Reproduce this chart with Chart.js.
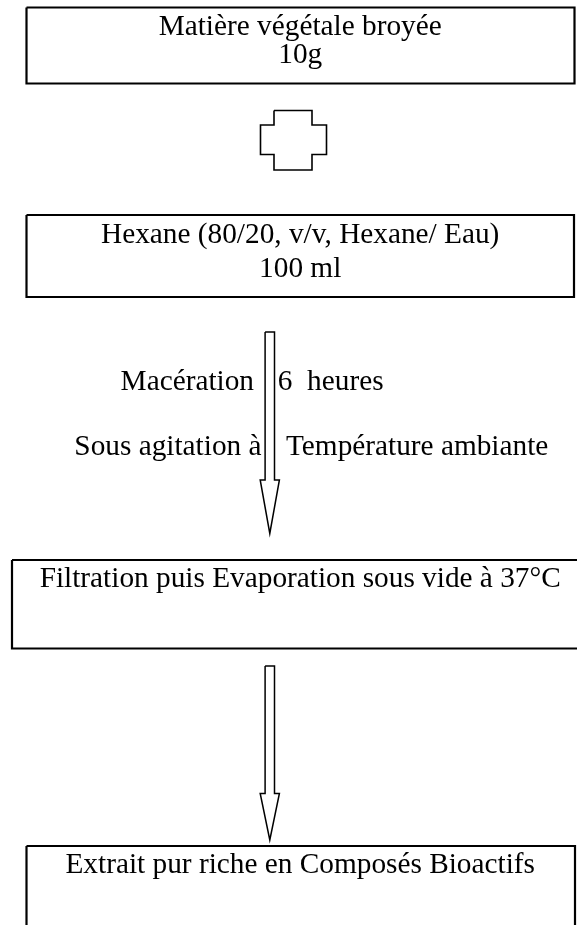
<!DOCTYPE html>
<html>
<head>
<meta charset="utf-8">
<script src="https://cdn.jsdelivr.net/npm/chart.js@4/dist/chart.umd.min.js"></script>
<style>
  html, body { margin: 0; padding: 0; background: #fff; }
  #schema { display: block; }
</style>
</head>
<body>
<canvas id="schema" width="577" height="925"></canvas>
<script>
// etapes du protocole (unites du schema)
const stepLines = [
    ["Matière végétale broyée", "10g"],
    ["Hexane (80/20, v/v, Hexane/ Eau)", "100 ml"],
    ["Filtration puis Evaporation sous vide à 37°C"],
    ["Extrait pur riche en Composés Bioactifs"]
];
const stepLineY = [[35, 63.3], [243.3, 276.7], [586.7], [873.3]];
const stepLeft = [26.5, 26.5, 12, 26.5];
const stepRight = [574.5, 574, 590, 575];
const stepTop = [7.5, 215, 560, 846];
const stepBottom = [83.5, 297, 648.5, 960];

// le signe "+" entre matiere et solvant
const crossX = [274, 312, 312, 326.5, 326.5, 312, 312, 274, 274, 260.5, 260.5, 274, 274];
const crossY = [110.5, 110.5, 125, 125, 154.5, 154.5, 170, 170, 154.5, 154.5, 125, 125, 110.5];

// fleches
const arrowTop = [332, 666];
const arrowHeadStart = [480, 793.5];
const arrowTip = [533.5, 840];

// conditions de maceration
const noteLeft = ["Macération", "Sous agitation à"];
const noteRight = ["6  heures", "Température ambiante"];
const noteY = [390, 455];

const arrowMid = 269.8;
const FONT = '29.3px "Liberation Serif", "Times New Roman", serif';

const boxPoints = (i) => [
    { x: stepLeft[i], y: stepTop[i] },
    { x: stepRight[i], y: stepTop[i] },
    { x: stepRight[i], y: stepBottom[i] },
    { x: stepLeft[i], y: stepBottom[i] },
    { x: stepLeft[i], y: stepTop[i] }
];

const arrowPoints = (i) => [
    { x: arrowMid - 4.7, y: arrowTop[i] },
    { x: arrowMid + 4.7, y: arrowTop[i] },
    { x: arrowMid + 4.7, y: arrowHeadStart[i] },
    { x: arrowMid + 9.6, y: arrowHeadStart[i] },
    { x: arrowMid, y: arrowTip[i] },
    { x: arrowMid - 9.6, y: arrowHeadStart[i] },
    { x: arrowMid - 4.7, y: arrowHeadStart[i] },
    { x: arrowMid - 4.7, y: arrowTop[i] }
];

const shape = (points, width) => ({
    data: points,
    showLine: true,
    borderColor: '#000',
    borderWidth: width,
    borderJoinStyle: 'miter',
    pointRadius: 0,
    fill: false,
    tension: 0
});

const datasets = [];
stepLines.forEach((s, i) => datasets.push(shape(boxPoints(i), 2.2)));
datasets.push(shape(crossX.map((x, i) => ({ x: x, y: crossY[i] })), 1.6));
arrowTop.forEach((a, i) => datasets.push(shape(arrowPoints(i), 1.5)));

//textes poses avec les echelles du graphique
const textPlugin = {
    id: 'textes',
    afterDatasetsDraw(chart) {
        const { ctx, scales: { x, y } } = chart;
        ctx.save();
        ctx.font = FONT;
        ctx.fillStyle = '#000';
        ctx.textBaseline = 'alphabetic';
        ctx.textAlign = 'center';
        stepLines.forEach((lines, i) => {
            lines.forEach((txt, j) => {
                ctx.fillText(txt, x.getPixelForValue(300.2), y.getPixelForValue(stepLineY[i][j]));
            });
        });
        ctx.textAlign = 'right';
        ctx.fillText(noteLeft[0], x.getPixelForValue(254), y.getPixelForValue(noteY[0]));
        ctx.fillText(noteLeft[1], x.getPixelForValue(261.5), y.getPixelForValue(noteY[1]));
        ctx.textAlign = 'left';
        ctx.fillText(noteRight[0], x.getPixelForValue(277.8), y.getPixelForValue(noteY[0]));
        ctx.fillText(noteRight[1], x.getPixelForValue(286), y.getPixelForValue(noteY[1]));
        ctx.restore();
    }
};

const ctx = document.getElementById('schema').getContext('2d');
new Chart(ctx, {
    type: 'scatter',
    data: { datasets: datasets },
    options: {
        responsive: false,
        animation: false,
        devicePixelRatio: 1,
        layout: { padding: 0 },
        plugins: {
            legend: { display: false },
            tooltip: { enabled: false },
            title: { display: false }
        },
        scales: {
            x: { type: 'linear', min: 0, max: 577, display: false },
            y: { type: 'linear', min: 0, max: 925, reverse: true, display: false }
        }
    },
    plugins: [textPlugin]
});
</script>
</body>
</html>
